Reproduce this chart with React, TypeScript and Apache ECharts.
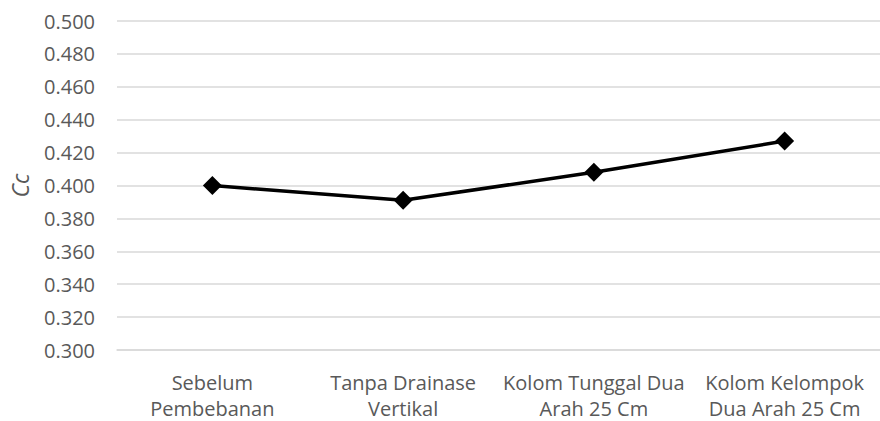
import React, { useEffect, useRef } from "react";
import * as echarts from "echarts";

const categories = [
  "Sebelum\nPembebanan",
  "Tanpa Drainase\nVertikal",
  "Kolom Tunggal Dua\nArah 25 Cm",
  "Kolom Kelompok\nDua Arah 25 Cm",
];
const ccValues = [0.4, 0.391, 0.408, 0.427];
const yMin = 0.3;
const yMax = 0.5;
const yStep = 0.02;

const FONT = "'Open Sans', 'Noto Sans', sans-serif";

export default function App() {
  const ref = useRef<HTMLDivElement>(null);

  useEffect(() => {
    if (!ref.current) return;
    const chart = echarts.init(ref.current, null, { renderer: "svg" });
    chart.setOption({
      animation: false,
      backgroundColor: "#ffffff",
      grid: { left: 117, top: 21, width: 765, bottom: 70 },
      xAxis: {
        type: "category",
        data: categories,
        boundaryGap: true,
        axisLine: { lineStyle: { color: "#d9d9d9", width: 1.5 } },
        axisTick: { show: false },
        axisLabel: {
          color: "#595959",
          fontFamily: FONT,
          fontSize: 20,
          lineHeight: 26,
          margin: 19,
          interval: 0,
        },
      },
      yAxis: {
        type: "value",
        min: yMin,
        max: yMax,
        interval: yStep,
        name: "Cc",
        nameLocation: "middle",
        nameRotate: 90,
        nameGap: 86,
        nameTextStyle: {
          color: "#595959",
          fontFamily: FONT,
          fontSize: 23,
          fontStyle: "italic",
        },
        axisLine: { show: false },
        axisTick: { show: false },
        splitLine: { lineStyle: { color: "#d9d9d9", width: 1.5 } },
        axisLabel: {
          color: "#595959",
          fontFamily: FONT,
          fontSize: 20,
          margin: 22,
          formatter: (v: number) => v.toFixed(3),
        },
      },
      series: [
        {
          type: "line",
          data: ccValues,
          symbol: "diamond",
          symbolSize: 19,
          lineStyle: { color: "#000000", width: 3.5 },
          itemStyle: { color: "#000000" },
        },
      ],
    });
    return () => chart.dispose();
  }, []);

  return (
    <div
      ref={ref}
      style={{ position: "fixed", left: 0, top: 0, width: 880, height: 421 }}
    />
  );
}
